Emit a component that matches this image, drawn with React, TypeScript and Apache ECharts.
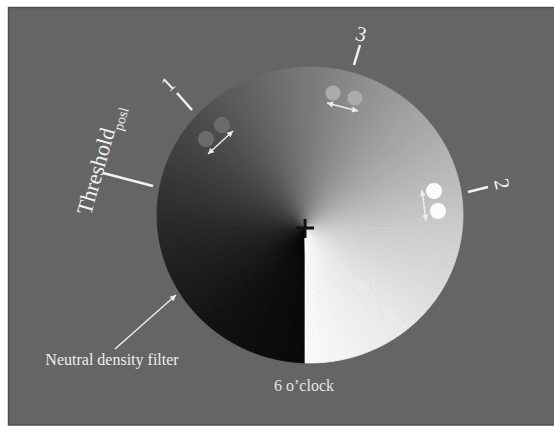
import React, { useEffect, useRef } from "react";
import * as echarts from "echarts";

// Brightness of the neutral density filter, clockwise from 6 o'clock (fraction of a turn -> gray level)
const GRAY_T = [0, 0.125, 0.25, 0.375, 0.5, 0.625, 0.75, 0.875, 1];
const GRAY_V = [8, 18, 40, 75, 120, 165, 205, 235, 252];

const CLOCK_LABELS = ["1", "2", "3"];
const THRESHOLD_MAIN = "Threshold";
const THRESHOLD_SUB = "posl";
const FILTER_LABEL = "Neutral density filter";
const SIX_LABEL = "6 o\u2019clock";

function grayAt(t: number): string {
  let i = 0;
  while (i < GRAY_T.length - 2 && t > GRAY_T[i + 1]) i++;
  const f = (t - GRAY_T[i]) / (GRAY_T[i + 1] - GRAY_T[i]);
  const v = Math.round(GRAY_V[i] + f * (GRAY_V[i + 1] - GRAY_V[i]));
  return `rgb(${v},${v},${v})`;
}

function arrowHead(x1: number, y1: number, x2: number, y2: number, color: string, len = 6, half = 3) {
  const dx = x2 - x1, dy = y2 - y1;
  const L = Math.hypot(dx, dy);
  const ux = dx / L, uy = dy / L;
  const bx = x2 - ux * len, by = y2 - uy * len;
  return {
    type: "polygon",
    shape: { points: [[x2, y2], [bx - uy * half, by + ux * half], [bx + uy * half, by - ux * half]] },
    style: { fill: color },
    z: 20,
  };
}

function arrow(x1: number, y1: number, x2: number, y2: number, color: string, both: boolean) {
  const els: any[] = [
    { type: "line", shape: { x1, y1, x2, y2 }, style: { stroke: color, lineWidth: 1.5 }, z: 19 },
    arrowHead(x1, y1, x2, y2, color),
  ];
  if (both) els.push(arrowHead(x2, y2, x1, y1, color));
  return els;
}

export default function App() {
  const ref = useRef<HTMLDivElement>(null);
  useEffect(() => {
    if (!ref.current) return;
    const chart = echarts.init(ref.current, null, { renderer: "svg" });

    const els: any[] = [];
    // panel
    els.push({
      type: "rect",
      shape: { x: 8.5, y: 7.5, width: 550, height: 417.5 },
      style: { fill: "#656565", stroke: "#4f4f4f", lineWidth: 1.5 },
      z: 1,
    });

    // conic-shaded disc (ellipse), conic centre at cross
    const ex = 310, ey = 215, rx = 153, ry = 148;
    const cx = 305, cy = 228;
    const P = (t: number) => {
      const th = Math.PI / 2 + 2 * Math.PI * t;
      const dx = Math.cos(th), dy = Math.sin(th);
      const ox = cx - ex, oy = cy - ey;
      const A = (dx * dx) / (rx * rx) + (dy * dy) / (ry * ry);
      const B = 2 * ((ox * dx) / (rx * rx) + (oy * dy) / (ry * ry));
      const C = (ox * ox) / (rx * rx) + (oy * oy) / (ry * ry) - 1;
      const s = (-B + Math.sqrt(B * B - 4 * A * C)) / (2 * A);
      return [cx + s * dx, cy + s * dy];
    };
    const N = 360;
    for (let i = 0; i < N; i++) {
      const t0 = i / N, t1 = (i + 1) / N;
      const col = grayAt((i + 0.5) / N);
      els.push({
        type: "polygon",
        shape: { points: [[cx, cy], P(t0), P(t1)] },
        style: { fill: col, stroke: col, lineWidth: 0.7 },
        z: 5,
      });
    }

    // cross
    els.push({ type: "line", shape: { x1: 296, y1: 228, x2: 314, y2: 228 }, style: { stroke: "#111", lineWidth: 3 }, z: 15 });
    els.push({ type: "line", shape: { x1: 305, y1: 219, x2: 305, y2: 238 }, style: { stroke: "#111", lineWidth: 3 }, z: 15 });

    // dots
    const dot = (x: number, y: number, r: number, fill: string) => ({
      type: "circle", shape: { cx: x, cy: y, r }, style: { fill }, z: 12,
    });
    els.push(dot(222, 125, 8, "#6b6b6b"), dot(206, 139, 8, "#6b6b6b"));
    els.push(dot(333, 93, 7.5, "#ababab"), dot(355, 98, 7.5, "#ababab"));
    els.push(dot(434, 191, 8, "#fbfbfb"), dot(438, 211, 8, "#fbfbfb"));

    // arrows
    els.push(...arrow(208, 154, 233, 131, "#ececec", true));
    els.push(...arrow(327, 103, 358, 111, "#ececec", true));
    els.push(...arrow(422, 190, 426, 221, "#ececec", true));
    els.push(...arrow(115, 349, 176, 295, "#ececec", false));

    // ticks
    const tick = (x1: number, y1: number, x2: number, y2: number) => ({
      type: "line", shape: { x1, y1, x2, y2 }, style: { stroke: "#f2f2f2", lineWidth: 2.5 }, z: 18,
    });
    els.push(tick(354, 65, 360, 45));
    els.push(tick(468, 192, 488, 187));
    els.push(tick(177, 93, 192, 110));
    els.push(tick(103, 173, 153, 186));

    const font = '"Liberation Serif", "DejaVu Serif", serif';
    const clockPos = [
      { x: 168, y: 84, rot: 0.76 },
      { x: 502, y: 184, rot: -1.34 },
      { x: 361, y: 34, rot: -0.25 },
    ];
    CLOCK_LABELS.forEach((lab, i) => {
      const p = clockPos[i];
      els.push({
        type: "text", x: p.x, y: p.y, rotation: p.rot, z: 18,
        style: { text: lab, fill: "#f2f2f2", font: `21px ${font}`, textAlign: "center", textVerticalAlign: "middle" },
      });
    });

    els.push({
      type: "group", x: 94, y: 217, rotation: 1.29, z: 18,
      children: [
        { type: "text", x: 0, y: 0, z: 18, style: { text: THRESHOLD_MAIN, fill: "#f2f2f2", font: `22px ${font}`, textAlign: "left", textVerticalAlign: "bottom" } },
        { type: "text", x: 90, y: 6, z: 18, style: { text: THRESHOLD_SUB, fill: "#f2f2f2", font: `14px ${font}`, textAlign: "left", textVerticalAlign: "bottom" } },
      ],
    });

    els.push({
      type: "text", x: 112, y: 359, z: 18,
      style: { text: FILTER_LABEL, fill: "#eeeeee", font: `16px ${font}`, textAlign: "center", textVerticalAlign: "middle" },
    });
    els.push({
      type: "text", x: 304, y: 385, z: 18,
      style: { text: SIX_LABEL, fill: "#e6e6e6", font: `16px ${font}`, textAlign: "center", textVerticalAlign: "middle" },
    });

    chart.setOption({ animation: false, graphic: { elements: els } });
    return () => chart.dispose();
  }, []);
  return (
    <div
      ref={ref}
      style={{ position: "absolute", left: 0, top: 0, width: 554, height: 428, background: "#ffffff" }}
    />
  );
}
